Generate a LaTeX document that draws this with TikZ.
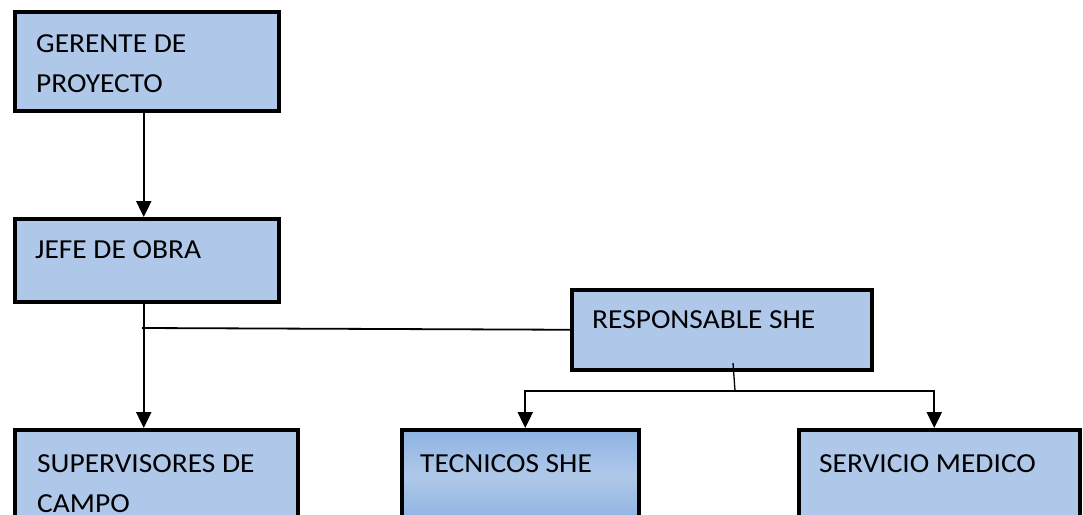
\documentclass[tikz,border=0pt]{standalone}
\usepackage{fontspec}
\setmainfont{Carlito}[FakeStretch=1.07]
\usetikzlibrary{arrows.meta,calc}
\definecolor{boxblue}{HTML}{AFC8E9}
\definecolor{darkblue}{HTML}{8DB3E2}
\begin{document}
\begin{tikzpicture}[x=1pt,y=-1pt,
  box/.style={draw=black,line width=3.5pt,fill=boxblue,rectangle,anchor=north west,inner sep=0pt},
  lbl/.style={anchor=base west,inner sep=0pt,font=\fontsize{27.5}{30}\selectfont},
  arr/.style={line width=2.4pt,-{Triangle[width=15pt,length=16pt]}},
  con/.style={line width=1.8pt}]
\useasboundingbox (0,0) rectangle (1083,514);
\clip (0,0) rectangle (1083,514);
% boxes
\node[box,minimum width=264pt,minimum height=99pt] (ger) at (13,10) {};
\node[box,minimum width=264pt,minimum height=83pt] (jefe) at (13,217) {};
\node[box,minimum width=300pt,minimum height=80pt] (resp) at (570,288) {};
\node[box,minimum width=283pt,minimum height=110pt] (sup) at (13,428) {};
\node[box,minimum width=237pt,minimum height=92pt,top color=darkblue,bottom color=darkblue,middle color=boxblue] (tec) at (400,428) {};
\node[box,minimum width=281pt,minimum height=110pt] (serv) at (797,428) {};
% texts
\node[lbl] (t1) at (36,52) {GERENTE DE};
\node[lbl] (t2) at (36,92) {PROYECTO};
\node[lbl] (t3) at (35,258) {JEFE DE OBRA};
\node[lbl] (t4) at (592,328) {RESPONSABLE SHE};
\node[lbl] (t5) at (37,472) {SUPERVISORES DE};
\node[lbl] (t6) at (37,512) {CAMPO};
\node[lbl] (t7) at (420,472) {TECNICOS SHE};
\node[lbl] (t8) at (819,472) {SERVICIO MEDICO};
% connectors
\draw[arr] ([xshift=-3pt]ger.south) -- ([xshift=-3pt]jefe.north);
\draw[arr] ([xshift=-3pt]jefe.south) -- ([xshift=-3pt]jefe.south |- sup.north);
\coordinate (j1) at (142,328);
\draw[con] (j1) -- (resp.west);
\coordinate (r1) at (733,363);
\coordinate (rb) at (735,391);
\draw[line width=1.3pt] (r1) -- (rb);
\draw[arr] (rb) -| ([xshift=5pt]tec.north);
\draw[arr] (rb) -| ([xshift=-5pt]serv.north);
\end{tikzpicture}
\end{document}
